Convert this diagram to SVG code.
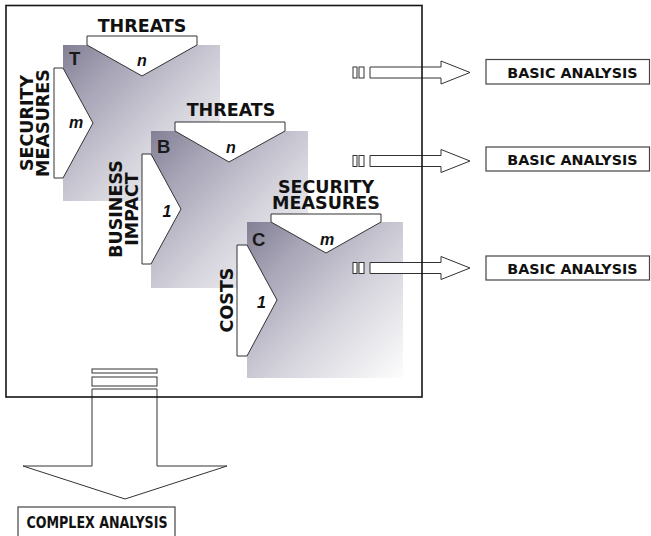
<svg xmlns="http://www.w3.org/2000/svg" xmlns:xlink="http://www.w3.org/1999/xlink" width="651" height="536" viewBox="0 0 651 536">
  <style>
    .sq { stroke: none; }
    .tab { fill: #ffffff; stroke: #333333; stroke-width: 1; stroke-linejoin: miter; }
    .lbl { font-family: "DejaVu Sans", Verdana, sans-serif; font-weight: bold; font-size: 17.5px; fill: #111111; text-anchor: middle; }
    .key { font-family: "Liberation Sans", Arial, sans-serif; font-weight: bold; font-size: 18.5px; fill: #1a1a1a; }
    .card { font-family: "Liberation Sans", Arial, sans-serif; font-weight: bold; font-style: italic; font-size: 16px; fill: #111111; text-anchor: middle; }
    .arrow { fill: #ffffff; stroke: #333333; stroke-width: 1; }
    .box { fill: #ffffff; stroke: #444444; stroke-width: 1.2; }
    .boxtxt { font-family: "DejaVu Sans", Verdana, sans-serif; font-weight: bold; fill: #111111; text-anchor: middle; }
    .frame { fill: none; stroke: #151515; stroke-width: 1.6; }
  </style>
  <defs>
    <linearGradient id="shade" x1="0" y1="0" x2="1" y2="1">
      <stop offset="0" stop-color="#837f95"/>
      <stop offset="0.25" stop-color="#a9a7b8"/>
      <stop offset="0.58" stop-color="#d4d3dc"/>
      <stop offset="1" stop-color="#fdfdfd"/>
    </linearGradient>
    <!-- horizontal block arrow: two stubs, shaft and head, centred on y=0 -->
    <g id="rightArrow">
      <rect class="arrow" x="353" y="-5.5" width="4" height="11"/>
      <rect class="arrow" x="359" y="-5.5" width="5" height="11"/>
      <polygon class="arrow" points="370,-5.5 441,-5.5 441,-11.5 470,0 441,11.5 441,5.5 370,5.5"/>
    </g>
  </defs>

  <rect x="0" y="0" width="651" height="536" fill="#ffffff"/>

  <!-- matrix T: threats x security measures -->
  <g id="matrix-T">
    <rect class="sq" x="63" y="45" width="157" height="156" fill="url(#shade)"/>
    <polygon class="tab" points="87,36 197,36 197,45 142,76 87,45"/>
    <polygon class="tab" points="54,68 63,68 93,123 63,178 54,178"/>
    <text class="lbl" x="142" y="32">THREATS</text>
    <text class="lbl" transform="translate(33,123) rotate(-90)"><tspan x="0" y="0">SECURITY</tspan><tspan x="0" y="15.5">MEASURES</tspan></text>
    <text class="key" x="69" y="65">T</text>
    <text class="card" x="142" y="66">n</text>
    <text class="card" x="76" y="128">m</text>
  </g>

  <!-- matrix B: threats x business impact -->
  <g id="matrix-B">
    <rect class="sq" x="151" y="131" width="157" height="157" fill="url(#shade)"/>
    <polygon class="tab" points="175,122 285,122 285,131 229,162 175,131"/>
    <polygon class="tab" points="142,154 151,154 181,209 151,264 142,264"/>
    <text class="lbl" x="231" y="116">THREATS</text>
    <text class="lbl" transform="translate(122,209) rotate(-90)"><tspan x="0" y="0">BUSINESS</tspan><tspan x="0" y="15.5">IMPACT</tspan></text>
    <text class="key" x="157" y="153">B</text>
    <text class="card" x="231" y="153">n</text>
    <text class="card" x="167" y="217">1</text>
  </g>

  <!-- matrix C: security measures x costs -->
  <g id="matrix-C">
    <rect class="sq" x="247" y="222" width="156" height="156" fill="url(#shade)"/>
    <polygon class="tab" points="271,214 381,214 381,222 326,253 271,222"/>
    <polygon class="tab" points="237,245 247,245 277,300 247,356 237,356"/>
    <text class="lbl"><tspan x="326" y="192.5">SECURITY</tspan><tspan x="326" y="208.5">MEASURES</tspan></text>
    <text class="lbl" transform="translate(233,300) rotate(-90)">COSTS</text>
    <text class="key" x="252" y="246">C</text>
    <text class="card" x="327" y="245">m</text>
    <text class="card" x="261.5" y="308">1</text>
  </g>

  <!-- connectors -->
  <g id="connectors">
    <use xlink:href="#rightArrow" transform="translate(0,72.5)"/>
    <use xlink:href="#rightArrow" transform="translate(0,161)"/>
    <use xlink:href="#rightArrow" transform="translate(0,268)"/>
    <rect class="arrow" x="92" y="369" width="65" height="4"/>
    <rect class="arrow" x="92" y="377" width="65" height="9"/>
    <polygon class="arrow" points="92,389 157,389 157,466 227,466 125,499 23,466 92,466"/>
  </g>

  <!-- outer frame grouping the three matrices -->
  <g id="frame">
    <rect class="frame" x="6" y="5.5" width="416" height="391.5"/>
  </g>

  <g id="basic-1">
    <rect class="box" x="486" y="59.5" width="163.5" height="24.5"/>
    <text class="boxtxt" x="572.5" y="77.5" font-size="14.3">BASIC ANALYSIS</text>
  </g>
  <g id="basic-2">
    <rect class="box" x="486" y="147" width="163.5" height="24"/>
    <text class="boxtxt" x="572.5" y="164.5" font-size="14.3">BASIC ANALYSIS</text>
  </g>
  <g id="basic-3">
    <rect class="box" x="486" y="256" width="163.5" height="24"/>
    <text class="boxtxt" x="572.5" y="273.5" font-size="14.3">BASIC ANALYSIS</text>
  </g>

  <g id="complex">
    <rect class="box" x="18" y="507" width="157" height="40"/>
    <text class="boxtxt" x="97" y="528" font-size="15.5" textLength="141" lengthAdjust="spacingAndGlyphs">COMPLEX ANALYSIS</text>
  </g>
</svg>
